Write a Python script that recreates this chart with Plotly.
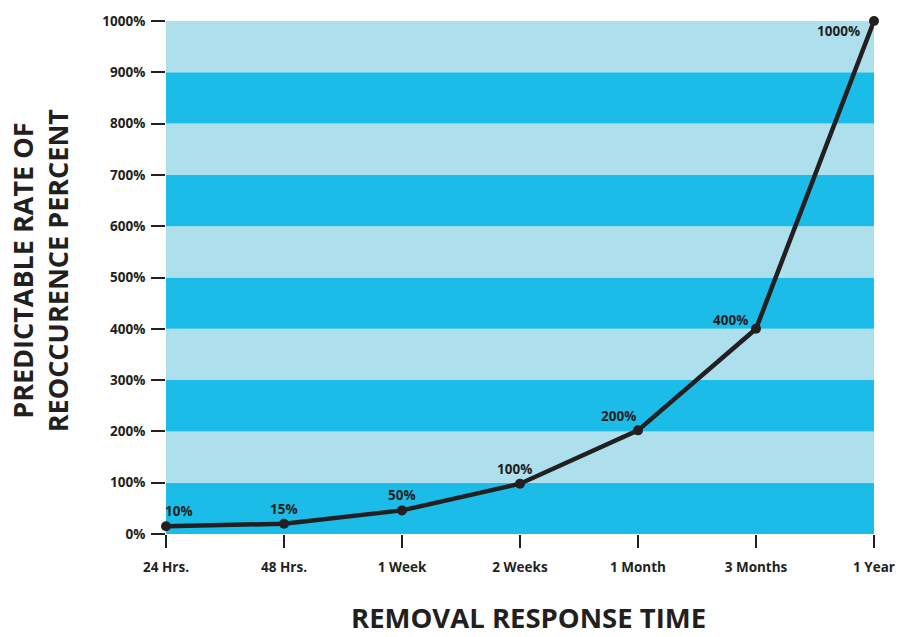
import plotly.graph_objects as go

categories = ["24 Hrs.", "48 Hrs.", "1 Week", "2 Weeks", "1 Month", "3 Months", "1 Year"]
values = [15, 20, 46, 98, 202, 400, 1000]
point_labels = ["10%", "15%", "50%", "100%", "200%", "400%", "1000%"]
y_ticks = [0, 100, 200, 300, 400, 500, 600, 700, 800, 900, 1000]
y_tick_text = [f"{v}%" for v in y_ticks]

DARK = "#1bbde8"
LIGHT = "#aedfed"
INK = "#231f20"
FONT = "Open Sans"

fig = go.Figure()

# alternating background bands
shapes = []
for i in range(len(y_ticks) - 1):
    shapes.append(dict(type="rect", xref="paper", yref="y", x0=0, x1=1,
                       y0=y_ticks[i], y1=y_ticks[i + 1],
                       fillcolor=DARK if i % 2 == 0 else LIGHT,
                       line=dict(width=0), layer="below"))

fig.add_trace(go.Scatter(
    x=list(range(len(categories))), y=values, mode="lines+markers",
    line=dict(color=INK, width=4.5), marker=dict(color=INK, size=10),
    cliponaxis=False, showlegend=False, hoverinfo="skip"))

# label placements
place = [
    dict(xanchor="left", yanchor="bottom", xshift=-3, yshift=4),
    dict(xanchor="center", yanchor="bottom", xshift=0, yshift=4),
    dict(xanchor="center", yanchor="bottom", xshift=0, yshift=4),
    dict(xanchor="center", yanchor="bottom", xshift=-6, yshift=4),
    dict(xanchor="center", yanchor="bottom", xshift=-20, yshift=3),
    dict(xanchor="right", yanchor="bottom", xshift=-6, yshift=-2),
    dict(xanchor="right", yanchor="top", xshift=-12, yshift=1),
]
annotations = []
for i, (v, t) in enumerate(zip(values, point_labels)):
    annotations.append(dict(x=i, y=v, xref="x", yref="y", text=t, showarrow=False,
                            font=dict(family=FONT, size=13.5, color=INK, weight="bold"),
                            **place[i]))

annotations.append(dict(text="PREDICTABLE RATE OF<br>REOCCURENCE PERCENT", textangle=-90,
                        xref="paper", yref="paper", x=-0.178, y=0.514, showarrow=False,
                        xanchor="center", yanchor="middle",
                        font=dict(family=FONT, size=27, color=INK, weight="bold")))
annotations.append(dict(text="REMOVAL RESPONSE TIME",
                        xref="paper", yref="paper", x=0.512, y=-0.163, showarrow=False,
                        xanchor="center", yanchor="middle",
                        font=dict(family=FONT, size=27.5, color=INK, weight="bold")))

fig.update_layout(
    width=909, height=637,
    margin=dict(l=166, r=35, t=16, b=103),
    paper_bgcolor="white", plot_bgcolor="white",
    shapes=shapes, annotations=annotations,
    xaxis=dict(range=[0, len(categories) - 1], tickmode="array",
               tickvals=list(range(len(categories))), ticktext=categories,
               ticks="outside", ticklen=13, tickwidth=2, tickcolor=INK,
               showgrid=False, zeroline=False, showline=False,
               ticklabelstandoff=8,
               tickfont=dict(family=FONT, size=13.5, color=INK, weight="bold")),
    yaxis=dict(range=[0, 1000], tickmode="array", tickvals=y_ticks, ticktext=y_tick_text,
               ticks="outside", ticklen=14, tickwidth=2, tickcolor=INK,
               showgrid=False, zeroline=False, showline=False,
               ticklabelstandoff=3,
               tickfont=dict(family=FONT, size=13.5, color=INK, weight="bold")),
)

fig.write_html("out.html", config={"displayModeBar": False},
               post_script="document.body.style.margin='0';document.body.style.overflow='hidden';")
